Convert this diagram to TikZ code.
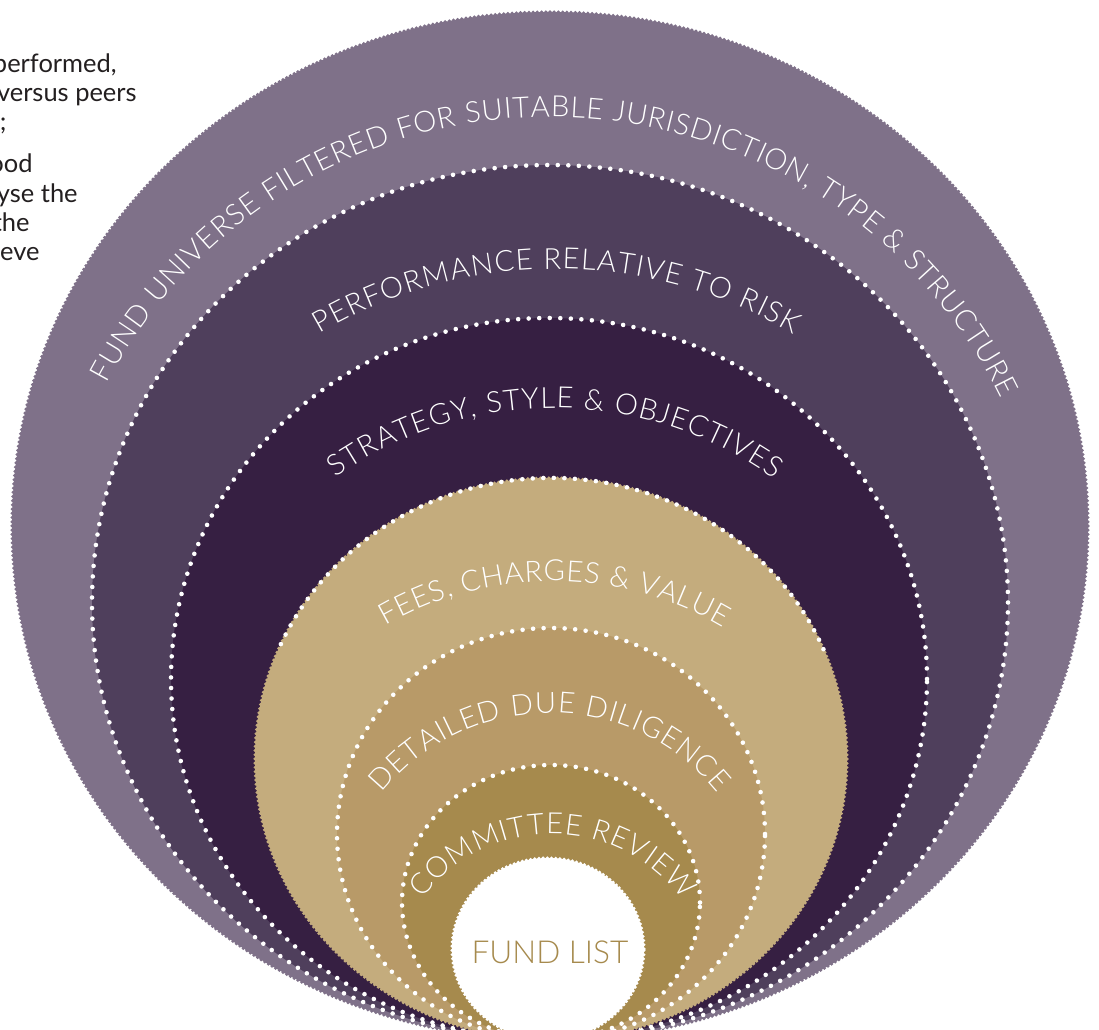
\documentclass[tikz,border=0pt]{standalone}
\usepackage{fontspec}
\setmainfont{Lato}
\newfontfamily\ringface{Lato Light}
\usetikzlibrary{decorations.text}
\definecolor{fundmauve}{HTML}{7F7189}
\definecolor{fundplum}{HTML}{4F3F5C}
\definecolor{funddeep}{HTML}{361F42}
\definecolor{fundsand}{HTML}{C4AC7D}
\definecolor{fundbrass}{HTML}{B89A68}
\definecolor{fundgold}{HTML}{A68A4D}
\definecolor{inkgrey}{HTML}{231F20}
\newcommand{\ringfont}{\ringface\fontsize{16.6}{20}\selectfont}
\newcommand{\sidefont}{\fontsize{14.5}{17}\selectfont}
\tikzset{
  scallop/.style={line width=2pt, dash pattern=on 0pt off 2.4pt, line cap=round},
  pearls/.style={draw=white, line width=2.6pt, dash pattern=on 0pt off 6pt, line cap=round},
  ringtext/.style={decorate, decoration={text along path, text align={fit to path}, text={|\color{white}\ringfont|#1}}},
  sidetext/.style={anchor=base east, inner sep=0pt, font=\sidefont, text=inkgrey},
}
\begin{document}
\begin{tikzpicture}[x=0.02cm, y=0.02cm, line join=round, line cap=round]
\useasboundingbox (0,0) rectangle (1099,1030);
\clip (0,0) rectangle (1099,1030);
% cut-off paragraph on the left
\node[sidetext] (perf) at (117,957) {performed,};
\node[sidetext] (peers) at (137,928) {versus peers};
\node[sidetext] (semi) at (7,899) {;};
\node[sidetext] (ood) at (33,857) {ood};
\node[sidetext] (yse) at (78,827) {yse the};
\node[sidetext] (the) at (30,798) {the};
\node[sidetext] (eve) at (40,769) {eve};
% rings, outside in
\path[fill=fundmauve, draw=fundmauve, scallop] (550,504) ellipse[x radius=538, y radius=514];
\fill[fundplum] (550,427.5) ellipse[x radius=458, y radius=437.5];
\path[pearls] (550,427.5) ellipse[x radius=458, y radius=437.5];
\fill[funddeep] (549,351) ellipse[x radius=378, y radius=361];
\path[pearls] (549,351) ellipse[x radius=378, y radius=361];
\path[fill=fundsand, draw=fundsand, scallop] (551,271) ellipse[x radius=296, y radius=281];
\path[pearls] (551,271) ++(23:296 and 281) arc[start angle=23, end angle=157, x radius=296, y radius=281];
\fill[fundbrass] (551,196) ellipse[x radius=214, y radius=206];
\path[pearls] (551,196) ellipse[x radius=214, y radius=206];
\fill[fundgold] (551,127.5) ellipse[x radius=149, y radius=137.5];
\path[pearls] (551,127.5) ellipse[x radius=149, y radius=137.5];
\path[fill=white, draw=white, scallop] (548,81) ellipse[x radius=96, y radius=91];
% ring labels
\path[ringtext={FUND UNIVERSE FILTERED FOR SUITABLE JURISDICTION, TYPE {\&} STRUCTURE}]
  (550,411) ++(152:502) arc[start angle=152, end angle=26, radius=502];
\path[ringtext={PERFORMANCE RELATIVE TO RISK}]
  (556,294) ++(120.4:467) arc[start angle=120.4, end angle=59.4, radius=467];
\path[ringtext={STRATEGY, STYLE {\&} OBJECTIVES}]
  (554,245) ++(125.4:377) arc[start angle=125.4, end angle=54.3, radius=377];
\path[ringtext={FEES, CHARGES {\&} VALUE}]
  (553,114) ++(120:335) arc[start angle=120, end angle=59.4, radius=335];
\path[ringtext={DETAILED DUE DILIGENCE}]
  (550,101) ++(141:216) arc[start angle=141, end angle=39, radius=216];
\path[ringtext={COMMITTEE REVIEW}]
  (552,34) ++(143:162) arc[start angle=143, end angle=36.4, radius=162];
\node[font=\ringface\fontsize{18}{21}\selectfont, text=fundgold] (fundlist) at (550,77.5) {FUND LIST};
\end{tikzpicture}
\end{document}
